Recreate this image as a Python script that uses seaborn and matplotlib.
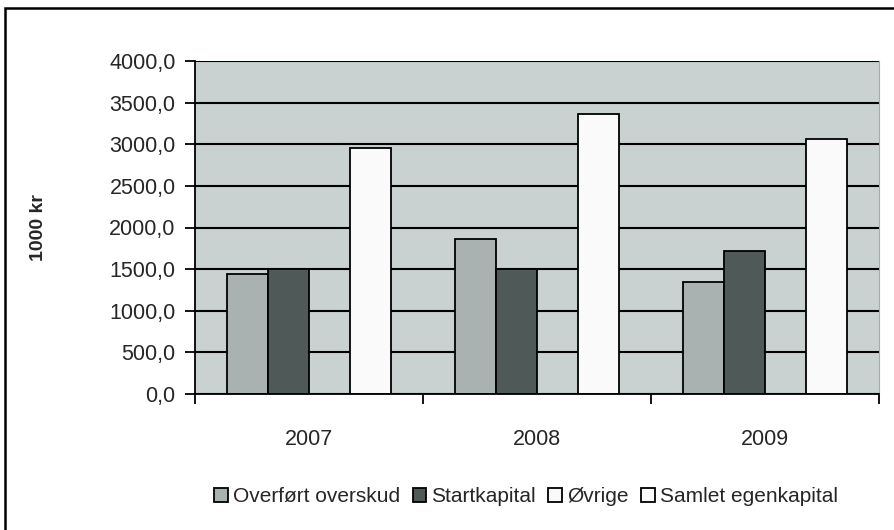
import matplotlib
matplotlib.use("Agg")
import matplotlib.pyplot as plt
import seaborn as sns
import pandas as pd
from matplotlib.ticker import FuncFormatter, FixedLocator
from matplotlib.patches import Rectangle

years = ["2007", "2008", "2009"]
series = ["Overført overskud", "Startkapital", "Øvrige", "Samlet egenkapital"]
overfort = [1440, 1860, 1350]
startkapital = [1505, 1505, 1720]
ovrige = [0, 0, 0]
samlet = [2950, 3360, 3060]

rows = []
for name, vals in zip(series, [overfort, startkapital, ovrige, samlet]):
    for y, v in zip(years, vals):
        rows.append({"year": y, "serie": name, "value": v})
df = pd.DataFrame(rows)

sns.set_theme(style="white")
plt.rcParams['font.family'] = ['Liberation Sans', 'DejaVu Sans']

colors = ["#a9b1b1", "#4f5958", "#fafafa", "#fafafa"]

fig = plt.figure(figsize=(8.95, 5.3), dpi=100)
ax = fig.add_axes([195/895, 1-394/530, (879-195)/895, (394-61)/530])
ax.set_facecolor("#c9d1d1")

sns.barplot(data=df, x="year", y="value", hue="serie", hue_order=series,
            palette=colors, width=0.72, edgecolor="black", linewidth=1.3,
            saturation=1, ax=ax)

ax.set_ylim(0, 4000)
ax.set_xlim(-0.5, 2.5)
ax.set_yticks(range(0, 4001, 500))
ax.yaxis.set_major_formatter(FuncFormatter(lambda v, p: f"{v:.1f}".replace(".", ",")))
ax.grid(axis="y", color="black", linewidth=1.5)
ax.set_axisbelow(True)

# ticks at category borders, labels at centres
ax.xaxis.set_major_locator(FixedLocator([-0.5, 0.5, 1.5, 2.5]))
ax.xaxis.set_minor_locator(FixedLocator([0, 1, 2]))
ax.set_xticklabels([])
ax.set_xticklabels(years, minor=True)
ax.tick_params(axis="x", which="major", direction="out", length=7, width=1.3, color="black", bottom=True)
ax.tick_params(axis="x", which="minor", length=0, pad=25, labelsize=15.5)
ax.tick_params(axis="y", direction="out", length=7, width=1.3, color="black", left=True, pad=7, labelsize=15.5)

ax.set_xlabel("")
ax.set_ylabel("1000 kr", fontsize=14, fontweight="bold")
ax.yaxis.set_label_coords((47-195)/684, 0.5)

ax.spines["top"].set_visible(False)
ax.spines["right"].set_color("#aaaaaa")
ax.spines["right"].set_linewidth(0.8)
for s in ["left", "bottom"]:
    ax.spines[s].set_color("black")
    ax.spines[s].set_linewidth(1.3)

handles, labels = ax.get_legend_handles_labels()
ax.get_legend().remove()
fig.legend(handles, labels, loc="center", bbox_to_anchor=(526/895, 1-497/530), ncol=4,
           frameon=False, fontsize=15, handlelength=0.65, handleheight=0.65,
           handletextpad=0.25, columnspacing=0.6, borderaxespad=0)

# outer chart frame
fig.patches.append(Rectangle((5/895, -0.05), 1.1, 1.05 - 8/530, transform=fig.transFigure,
                             fill=False, edgecolor="black", linewidth=1.8))

fig.savefig("out.png", dpi=100)
